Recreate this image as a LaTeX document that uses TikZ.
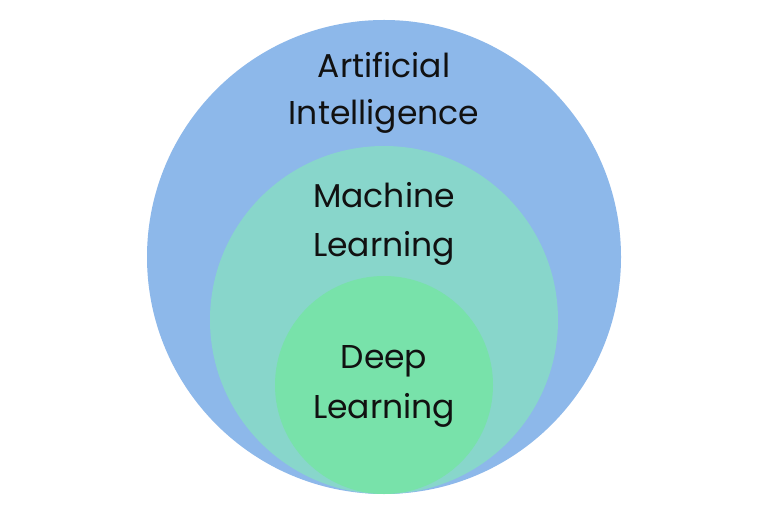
\documentclass[tikz,border=0pt]{standalone}
\usepackage{fontspec}
\setmainfont{Poppins}
\definecolor{aiblue}{HTML}{8DB8EA}
\definecolor{mlteal}{HTML}{88D6CB}
\definecolor{dlgreen}{HTML}{78E2AA}
\definecolor{txt}{HTML}{111111}
\begin{document}
\begin{tikzpicture}[x=1pt,y=-1pt,
  lbl/.style={text=txt,font=\fontsize{33}{40}\selectfont,anchor=base,inner sep=0pt}]
\useasboundingbox (0,0) rectangle (768,510);
\fill[white] (0,0) rectangle (768,510);
\node[circle,fill=aiblue,minimum size=474pt,inner sep=0pt] (ai) at (384,257) {};
\node[circle,fill=mlteal,minimum size=348pt,inner sep=0pt] (ml) at (384,320) {};
\node[circle,fill=dlgreen,minimum size=218pt,inner sep=0pt] (dl) at (384,385) {};
\node[lbl] (ait1) at (384,78) {Artificial};
\node[lbl] (ait2) at (384,125) {Intelligence};
\node[lbl] (mlt1) at (384,208) {Machine};
\node[lbl] (mlt2) at (384,257) {Learning};
\node[lbl] (dlt1) at (384,368) {Deep};
\node[lbl] (dlt2) at (384,418) {Learning};
\end{tikzpicture}
\end{document}
